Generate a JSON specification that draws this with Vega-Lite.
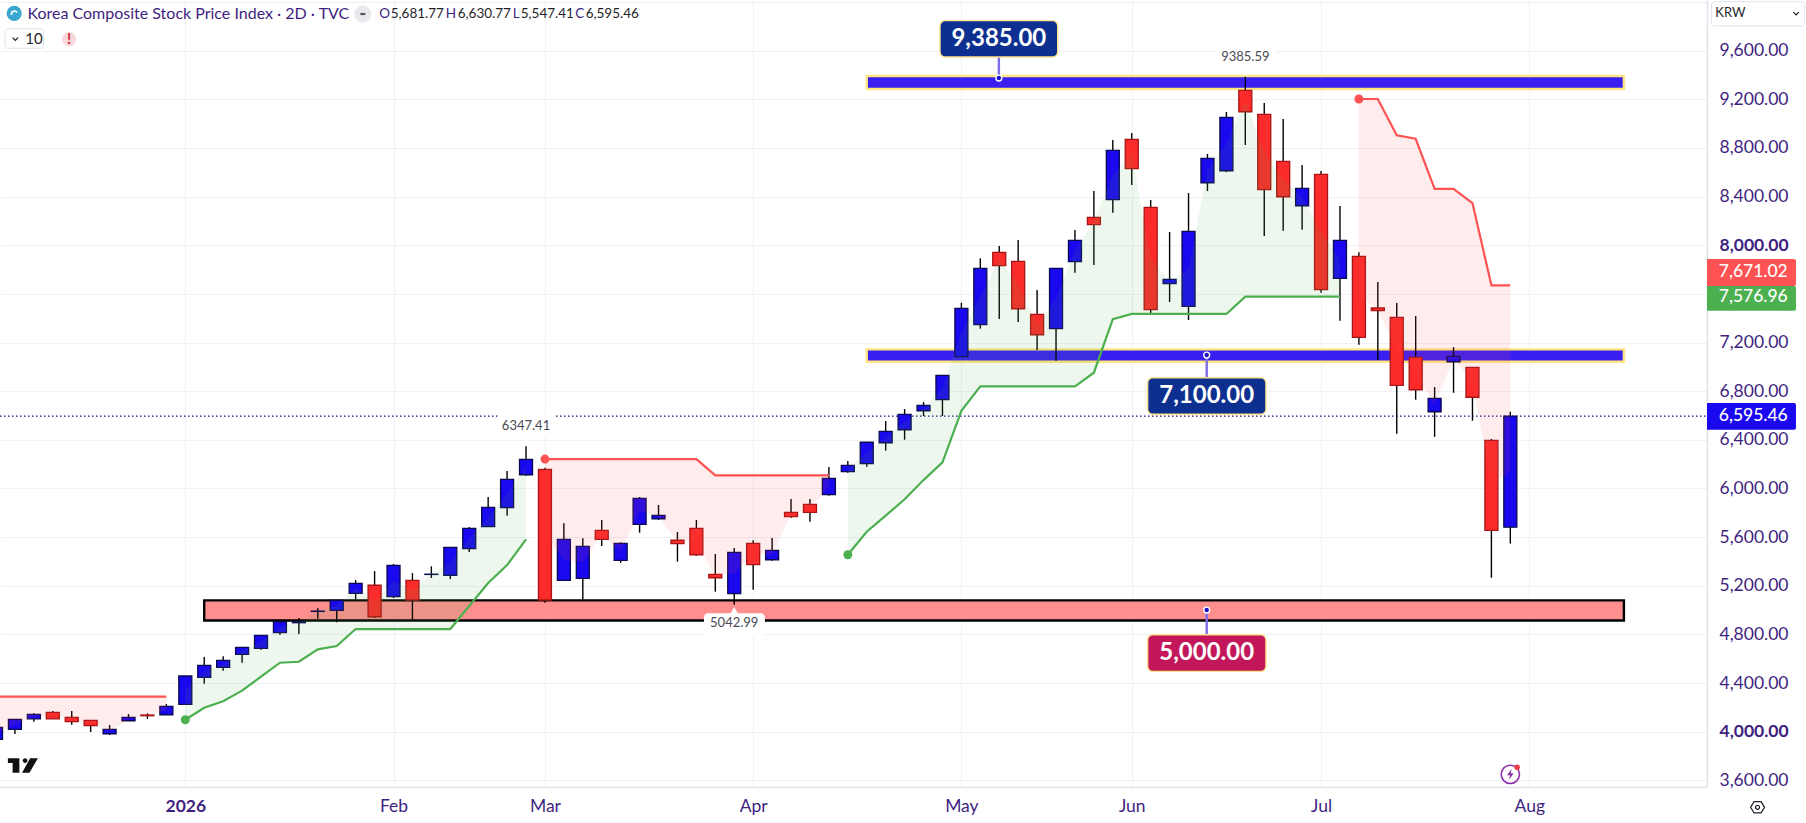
{
  "$schema": "https://vega.github.io/schema/vega-lite/v6.json",
  "width": 1707,
  "height": 787,
  "autosize": "none",
  "padding": {"left": 0, "top": 0, "right": 99, "bottom": 36},
  "background": "#ffffff",
  "config": {
    "view": {"stroke": null},
    "text": {"font": "Lato"},
    "axis": {"labelFont": "Lato", "title": null}
  },
  "datasets": {
    "candles": [
      {"bar": -10, "open": 3937, "high": 4036, "low": 3907, "close": 4036, "mid": 3986.5, "stop": 4287.5, "seg": 1, "side": "down"},
      {"bar": -9, "open": 4019, "high": 4102, "low": 3981, "close": 4101.6, "mid": 4060, "stop": 4287.5, "seg": 1, "side": "down"},
      {"bar": -8, "open": 4106, "high": 4151, "low": 4082, "close": 4143, "mid": 4124.5, "stop": 4287.5, "seg": 1, "side": "down"},
      {"bar": -7, "open": 4159, "high": 4170, "low": 4106, "close": 4106, "mid": 4132.5, "stop": 4287.5, "seg": 1, "side": "down"},
      {"bar": -6, "open": 4118, "high": 4170, "low": 4057, "close": 4082, "mid": 4100, "stop": 4287.5, "seg": 1, "side": "down"},
      {"bar": -5, "open": 4093, "high": 4093, "low": 3997, "close": 4049, "mid": 4071, "stop": 4287.5, "seg": 1, "side": "down"},
      {"bar": -4, "open": 3983, "high": 4055, "low": 3972, "close": 4019, "mid": 4001, "stop": 4287.5, "seg": 1, "side": "down"},
      {"bar": -3, "open": 4090, "high": 4145, "low": 4090, "close": 4118, "mid": 4104, "stop": 4287.5, "seg": 1, "side": "down"},
      {"bar": -2, "open": 4137, "high": 4151, "low": 4104, "close": 4131, "mid": 4134, "stop": 4287.5, "seg": 1, "side": "down"},
      {"bar": -1, "open": 4139, "high": 4227, "low": 4139, "close": 4208.5, "mid": 4174, "stop": 4287.5, "seg": 1, "side": "down"},
      {"bar": 0, "open": 4225, "high": 4458, "low": 4225, "close": 4458, "mid": 4341.5, "stop": 4098, "seg": 2, "side": "up"},
      {"bar": 1, "open": 4447, "high": 4614, "low": 4394, "close": 4546, "mid": 4496.5, "stop": 4197, "seg": 2, "side": "up"},
      {"bar": 2, "open": 4529, "high": 4620, "low": 4501, "close": 4587, "mid": 4558, "stop": 4250, "seg": 2, "side": "up"},
      {"bar": 3, "open": 4636, "high": 4694, "low": 4567, "close": 4694, "mid": 4665, "stop": 4337, "seg": 2, "side": "up"},
      {"bar": 4, "open": 4685.5, "high": 4792, "low": 4674, "close": 4792, "mid": 4739, "stop": 4452, "seg": 2, "side": "up"},
      {"bar": 5, "open": 4814, "high": 4904, "low": 4797, "close": 4904, "mid": 4859, "stop": 4567, "seg": 2, "side": "up"},
      {"bar": 6, "open": 4896, "high": 4935, "low": 4803, "close": 4902, "mid": 4899, "stop": 4575, "seg": 2, "side": "up"},
      {"bar": 7, "open": 4989, "high": 5014, "low": 4929, "close": 4991, "mid": 4990, "stop": 4677, "seg": 2, "side": "up"},
      {"bar": 8, "open": 4998, "high": 5080, "low": 4899, "close": 5080, "mid": 5039, "stop": 4704, "seg": 2, "side": "up"},
      {"bar": 9, "open": 5138, "high": 5247, "low": 5088.5, "close": 5220, "mid": 5179, "stop": 4844, "seg": 2, "side": "up"},
      {"bar": 10, "open": 5204, "high": 5321, "low": 4935, "close": 4945, "mid": 5074.5, "stop": 4844, "seg": 2, "side": "up"},
      {"bar": 11, "open": 5110, "high": 5379, "low": 5099, "close": 5368, "mid": 5239, "stop": 4844, "seg": 2, "side": "up"},
      {"bar": 12, "open": 5245, "high": 5305, "low": 4918, "close": 5083, "mid": 5164, "stop": 4844, "seg": 2, "side": "up"},
      {"bar": 13, "open": 5293, "high": 5360, "low": 5264, "close": 5295, "mid": 5294, "stop": 4844, "seg": 2, "side": "up"},
      {"bar": 14, "open": 5286, "high": 5516, "low": 5255, "close": 5516, "mid": 5401, "stop": 4844, "seg": 2, "side": "up"},
      {"bar": 15, "open": 5505, "high": 5683, "low": 5477, "close": 5672, "mid": 5588.5, "stop": 5033, "seg": 2, "side": "up"},
      {"bar": 16, "open": 5685.5, "high": 5930, "low": 5685, "close": 5845, "mid": 5765, "stop": 5222, "seg": 2, "side": "up"},
      {"bar": 17, "open": 5842, "high": 6143.5, "low": 5776, "close": 6075, "mid": 5958.5, "stop": 5370, "seg": 2, "side": "up"},
      {"bar": 18, "open": 6113, "high": 6347.41, "low": 6105, "close": 6240, "mid": 6176.5, "stop": 5582, "seg": 2, "side": "up"},
      {"bar": 19, "open": 6157.5, "high": 6171, "low": 5061, "close": 5083, "mid": 5620, "stop": 6242, "seg": 3, "side": "down"},
      {"bar": 20, "open": 5245, "high": 5713, "low": 5245, "close": 5582, "mid": 5413.5, "stop": 6242, "seg": 3, "side": "down"},
      {"bar": 21, "open": 5261, "high": 5590, "low": 5083, "close": 5524, "mid": 5392.5, "stop": 6242, "seg": 3, "side": "down"},
      {"bar": 22, "open": 5656, "high": 5741, "low": 5527, "close": 5582, "mid": 5619, "stop": 6242, "seg": 3, "side": "down"},
      {"bar": 23, "open": 5409, "high": 5557, "low": 5389, "close": 5549, "mid": 5479, "stop": 6242, "seg": 3, "side": "down"},
      {"bar": 24, "open": 5705, "high": 5930, "low": 5636, "close": 5919, "mid": 5812, "stop": 6242, "seg": 3, "side": "down"},
      {"bar": 25, "open": 5751, "high": 5864, "low": 5741, "close": 5779, "mid": 5765, "stop": 6242, "seg": 3, "side": "down"},
      {"bar": 26, "open": 5574, "high": 5642, "low": 5398, "close": 5546, "mid": 5560, "stop": 6242, "seg": 3, "side": "down"},
      {"bar": 27, "open": 5672, "high": 5741, "low": 5447, "close": 5455, "mid": 5563.5, "stop": 6242, "seg": 3, "side": "down"},
      {"bar": 28, "open": 5294, "high": 5461, "low": 5151, "close": 5266, "mid": 5280, "stop": 6108, "seg": 3, "side": "down"},
      {"bar": 29, "open": 5134.5, "high": 5510, "low": 5042.99, "close": 5475, "mid": 5305, "stop": 6108, "seg": 3, "side": "down"},
      {"bar": 30, "open": 5549, "high": 5574, "low": 5167, "close": 5373, "mid": 5461, "stop": 6108, "seg": 3, "side": "down"},
      {"bar": 31, "open": 5414, "high": 5593, "low": 5406, "close": 5491, "mid": 5452.5, "stop": 6108, "seg": 3, "side": "down"},
      {"bar": 32, "open": 5804, "high": 5913, "low": 5759.5, "close": 5768, "mid": 5786, "stop": 6108, "seg": 3, "side": "down"},
      {"bar": 33, "open": 5870, "high": 5913, "low": 5727, "close": 5804, "mid": 5837, "stop": 6108, "seg": 3, "side": "down"},
      {"bar": 34, "open": 5949, "high": 6176, "low": 5940, "close": 6083.5, "mid": 6016, "stop": 6108, "seg": 3, "side": "down"},
      {"bar": 35, "open": 6138, "high": 6226, "low": 6129.5, "close": 6190, "mid": 6164, "stop": 5455, "seg": 4, "side": "up"},
      {"bar": 36, "open": 6204, "high": 6380, "low": 6179, "close": 6380, "mid": 6292, "stop": 5644, "seg": 4, "side": "up"},
      {"bar": 37, "open": 6376, "high": 6555, "low": 6310.5, "close": 6470, "mid": 6423, "stop": 5776, "seg": 4, "side": "up"},
      {"bar": 38, "open": 6483, "high": 6653, "low": 6401, "close": 6610, "mid": 6546.5, "stop": 5911, "seg": 4, "side": "up"},
      {"bar": 39, "open": 6639, "high": 6711, "low": 6596, "close": 6684, "mid": 6661.5, "stop": 6069, "seg": 4, "side": "up"},
      {"bar": 40, "open": 6730, "high": 6930.5, "low": 6596, "close": 6930.5, "mid": 6830, "stop": 6215, "seg": 4, "side": "up"},
      {"bar": 41, "open": 7083.5, "high": 7527.6, "low": 7083, "close": 7481.5, "mid": 7282.5, "stop": 6639, "seg": 4, "side": "up"},
      {"bar": 42, "open": 7346.7, "high": 7893, "low": 7314, "close": 7810.5, "mid": 7578.6, "stop": 6840, "seg": 4, "side": "up"},
      {"bar": 43, "open": 7942, "high": 7994, "low": 7393.5, "close": 7832, "mid": 7887, "stop": 6840, "seg": 4, "side": "up"},
      {"bar": 44, "open": 7868, "high": 8043, "low": 7369, "close": 7478, "mid": 7673, "stop": 6840, "seg": 4, "side": "up"},
      {"bar": 45, "open": 7432, "high": 7632, "low": 7138.6, "close": 7264, "mid": 7348, "stop": 6840, "seg": 4, "side": "up"},
      {"bar": 46, "open": 7314, "high": 7810.5, "low": 7050.6, "close": 7810.5, "mid": 7562, "stop": 6840, "seg": 4, "side": "up"},
      {"bar": 47, "open": 7865, "high": 8125, "low": 7774, "close": 8041, "mid": 7953, "stop": 6840, "seg": 4, "side": "up"},
      {"bar": 48, "open": 8230, "high": 8446, "low": 7838, "close": 8169, "mid": 8199.5, "stop": 6952, "seg": 4, "side": "up"},
      {"bar": 49, "open": 8375, "high": 8866, "low": 8268, "close": 8781, "mid": 8578, "stop": 7393, "seg": 4, "side": "up"},
      {"bar": 50, "open": 8871, "high": 8923, "low": 8495.5, "close": 8630, "mid": 8750.5, "stop": 7435, "seg": 4, "side": "up"},
      {"bar": 51, "open": 8312, "high": 8372, "low": 7437, "close": 7470, "mid": 7891, "stop": 7435, "seg": 4, "side": "up"},
      {"bar": 52, "open": 7684, "high": 8109, "low": 7533, "close": 7720, "mid": 7702, "stop": 7435, "seg": 4, "side": "up"},
      {"bar": 53, "open": 7498, "high": 8430, "low": 7385, "close": 8115, "mid": 7806.5, "stop": 7435, "seg": 4, "side": "up"},
      {"bar": 54, "open": 8514, "high": 8750.5, "low": 8446, "close": 8715, "mid": 8614.5, "stop": 7435, "seg": 4, "side": "up"},
      {"bar": 55, "open": 8613, "high": 9096, "low": 8602, "close": 9052, "mid": 8832.5, "stop": 7435, "seg": 4, "side": "up"},
      {"bar": 56, "open": 9274, "high": 9385.59, "low": 8824.5, "close": 9098, "mid": 9186, "stop": 7577, "seg": 4, "side": "up"},
      {"bar": 57, "open": 9077, "high": 9170, "low": 8076, "close": 8457, "mid": 8767, "stop": 7577, "seg": 4, "side": "up"},
      {"bar": 58, "open": 8690, "high": 9038, "low": 8120, "close": 8399, "mid": 8544.5, "stop": 7577, "seg": 4, "side": "up"},
      {"bar": 59, "open": 8325, "high": 8660, "low": 8128, "close": 8468, "mid": 8396.5, "stop": 7577, "seg": 4, "side": "up"},
      {"bar": 60, "open": 8583.5, "high": 8611, "low": 7610, "close": 7634.5, "mid": 8109, "stop": 7577, "seg": 4, "side": "up"},
      {"bar": 61, "open": 7728, "high": 8323, "low": 7380, "close": 8041, "mid": 7884.5, "stop": 7577, "seg": 4, "side": "up"},
      {"bar": 62, "open": 7909, "high": 7942, "low": 7182, "close": 7243, "mid": 7576, "stop": 9203, "seg": 5, "side": "down"},
      {"bar": 63, "open": 7484, "high": 7698, "low": 7056, "close": 7462, "mid": 7473, "stop": 9203, "seg": 5, "side": "down"},
      {"bar": 64, "open": 7407.5, "high": 7525, "low": 6450, "close": 6848, "mid": 7128, "stop": 8904, "seg": 5, "side": "down"},
      {"bar": 65, "open": 7078.5, "high": 7418, "low": 6730, "close": 6812, "mid": 6945, "stop": 8876, "seg": 5, "side": "down"},
      {"bar": 66, "open": 6631, "high": 6834, "low": 6425.6, "close": 6741, "mid": 6686, "stop": 8463, "seg": 5, "side": "down"},
      {"bar": 67, "open": 7042, "high": 7163, "low": 6787, "close": 7087, "mid": 7064.5, "stop": 8463, "seg": 5, "side": "down"},
      {"bar": 68, "open": 6996, "high": 6996, "low": 6557, "close": 6750, "mid": 6873, "stop": 8347, "seg": 5, "side": "down"},
      {"bar": 69, "open": 6396, "high": 6407, "low": 5266, "close": 5656, "mid": 6026, "stop": 7671, "seg": 5, "side": "down"},
      {"bar": 70, "open": 5681.77, "high": 6630.77, "low": 5547.41, "close": 6595.46, "mid": 6138.6, "stop": 7671, "seg": 5, "side": "down"}
    ],
    "zones": [
      {"bar": 36, "bar2": 76, "price": 9392, "price2": 9285, "kind": "resistance"},
      {"bar": 36, "bar2": 76, "price": 7144, "price2": 7042, "kind": "resistance"},
      {"bar": 1, "bar2": 76, "price": 5080, "price2": 4914, "kind": "support"}
    ],
    "flips": [
      {"bar": 0, "price": 4098, "side": "up"},
      {"bar": 19, "price": 6242, "side": "down"},
      {"bar": 35, "price": 5455, "side": "up"},
      {"bar": 62, "price": 9203, "side": "down"}
    ],
    "stems": [
      {"bar": 42.98, "price": 9375, "price2": 9548},
      {"bar": 53.96, "price": 7097, "price2": 6911},
      {"bar": 53.96, "price": 5000, "price2": 4797}
    ],
    "boxes": [
      {"bar": 39.87, "bar2": 46.09, "price": 9847, "price2": 9548, "kind": "resistance"},
      {"bar": 50.84, "bar2": 57.09, "price": 6911, "price2": 6610, "kind": "resistance"},
      {"bar": 50.84, "bar2": 57.09, "price": 4797, "price2": 4496, "kind": "support"}
    ],
    "boxText": [
      {"bar": 42.98, "price": 9696, "label": "9,385.00"},
      {"bar": 53.96, "price": 6760, "label": "7,100.00"},
      {"bar": 53.96, "price": 4647, "label": "5,000.00"}
    ],
    "flags": [
      {"bar": 16.47, "bar2": 19.58, "price": 6612, "price2": 6423},
      {"bar": 54.46, "bar2": 57.6, "price": 9639, "price2": 9458},
      {"bar": 27.4, "bar2": 30.62, "price": 4973, "price2": 4778}
    ],
    "flagText": [
      {"bar": 18, "price": 6516, "label": "6347.41"},
      {"bar": 56, "price": 9551, "label": "9385.59"},
      {"bar": 29, "price": 4893, "label": "5042.99"}
    ],
    "tags": [
      {"bar": 80.39, "bar2": 85.09, "price": 7887, "price2": 7665, "kind": "down"},
      {"bar": 80.39, "bar2": 85.09, "price": 7665, "price2": 7462, "kind": "up"},
      {"bar": 80.39, "bar2": 85.09, "price": 6703, "price2": 6483, "kind": "last"}
    ],
    "tagText": [
      {"bar": 81.01, "price": 7780, "label": "7,671.02"},
      {"bar": 81.01, "price": 7577, "label": "7,576.96"},
      {"bar": 81.01, "price": 6598, "label": "6,595.46"}
    ]
  },
  "encoding": {
    "x": {
      "field": "bar",
      "type": "quantitative",
      "scale": {"domain": [-9.789, 80.39], "nice": false, "zero": false, "padding": 0},
      "axis": {
        "values": [-10, 0, 11, 19, 30, 41, 50, 60, 71],
        "labelExpr": "{'-10':'Dec','0':'2026','11':'Feb','19':'Mar','30':'Apr','41':'May','50':'Jun','60':'Jul','71':'Aug'}[datum.value]",
        "labelOverlap": false,
        "labelFontSize": 17.5,
        "labelColor": "#3f1f80",
        "labelFontWeight": {"condition": {"test": "datum.value === 0", "value": "bold"}, "value": "normal"},
        "labelPadding": 10,
        "ticks": false,
        "grid": true,
        "gridColor": "#f0f1f6",
        "gridWidth": 1,
        "domainColor": "#e0e3eb",
        "domainWidth": 1.5
      }
    },
    "y": {
      "field": "price",
      "type": "quantitative",
      "scale": {"domain": [3545, 10017], "nice": false, "zero": false},
      "axis": {
        "orient": "right",
        "values": [3600, 4000, 4400, 4800, 5200, 5600, 6000, 6400, 6800, 7200, 7600, 8000, 8400, 8800, 9200, 9600, 10000],
        "labelExpr": "datum.value > 9600 || datum.value === 7600 ? '' : format(datum.value, ',.2f')",
        "labelOverlap": false,
        "labelFontSize": 17.5,
        "labelColor": "#3f1f80",
        "labelAlign": "left",
        "labelPadding": 12,
        "labelFontWeight": {"condition": {"test": "datum.value === 4000 || datum.value === 8000", "value": "bold"}, "value": "normal"},
        "ticks": false,
        "grid": true,
        "gridColor": "#f0f1f6",
        "gridWidth": 1,
        "domainColor": "#e0e3eb",
        "domainWidth": 1.5
      }
    }
  },
  "layer": [
    {
      "data": {"name": "zones"},
      "mark": {"type": "rect", "strokeWidth": 2.4},
      "encoding": {
        "x2": {"field": "bar2"},
        "y2": {"field": "price2"},
        "fill": {"condition": {"test": "datum.kind === 'support'", "value": "#ff8f8f"}, "value": "#3a20f0"},
        "stroke": {"condition": {"test": "datum.kind === 'support'", "value": "#000000"}, "value": "#ffe680"}
      }
    },
    {
      "data": {"values": [{"bar": -9.789, "bar2": 80.39, "price": 6595.46}]},
      "mark": {"type": "rule", "color": "#14108c", "strokeWidth": 1.3, "strokeDash": [1.5, 2.5]},
      "encoding": {"x2": {"field": "bar2"}}
    },
    {
      "data": {"name": "candles"},
      "mark": {"type": "rule", "color": "#000000", "strokeWidth": 1.4},
      "encoding": {
        "y": {"field": "low", "type": "quantitative", "scale": {"domain": [3545, 10017], "nice": false, "zero": false}, "axis": {"orient": "right", "title": null}},
        "y2": {"field": "high"}
      }
    },
    {
      "data": {"name": "candles"},
      "mark": {"type": "bar", "size": 13, "strokeWidth": 1.3},
      "encoding": {
        "y": {"field": "open", "type": "quantitative", "scale": {"domain": [3545, 10017], "nice": false, "zero": false}, "axis": {"orient": "right", "title": null}},
        "y2": {"field": "close"},
        "fill": {"condition": {"test": "datum.close >= datum.open", "value": "#1a08ee"}, "value": "#fb2b2b"},
        "stroke": {"condition": {"test": "datum.close >= datum.open", "value": "#0a0a50"}, "value": "#a81414"}
      }
    },
    {
      "data": {"name": "candles"},
      "mark": {"type": "area", "opacity": 0.1},
      "encoding": {
        "y": {"field": "stop", "type": "quantitative", "scale": {"domain": [3545, 10017], "nice": false, "zero": false}, "axis": {"orient": "right", "title": null}},
        "y2": {"field": "mid"},
        "detail": {"field": "seg"},
        "color": {"field": "side", "type": "nominal", "scale": {"domain": ["up", "down"], "range": ["#4caf50", "#ff5252"]}, "legend": null}
      }
    },
    {
      "data": {"name": "candles"},
      "mark": {"type": "line", "strokeWidth": 2.2},
      "encoding": {
        "y": {"field": "stop", "type": "quantitative", "scale": {"domain": [3545, 10017], "nice": false, "zero": false}, "axis": {"orient": "right", "title": null}},
        "detail": {"field": "seg"},
        "color": {"field": "side", "type": "nominal", "scale": {"domain": ["up", "down"], "range": ["#4caf50", "#ff5252"]}, "legend": null}
      }
    },
    {
      "data": {"name": "flips"},
      "mark": {"type": "circle", "size": 80, "opacity": 1},
      "encoding": {
        "color": {"field": "side", "type": "nominal", "scale": {"domain": ["up", "down"], "range": ["#4caf50", "#ff5252"]}, "legend": null}
      }
    },
    {
      "data": {"name": "stems"},
      "mark": {"type": "rule", "color": "#7b6ee6", "strokeWidth": 2.4},
      "encoding": {"y2": {"field": "price2"}}
    },
    {
      "data": {"name": "stems"},
      "mark": {"type": "circle", "size": 34, "color": "#1f10c8", "stroke": "#ffffff", "strokeWidth": 1.4, "opacity": 1}
    },
    {
      "data": {"name": "boxes"},
      "mark": {"type": "rect", "cornerRadius": 5, "strokeWidth": 1.4, "stroke": "#ffe28a"},
      "encoding": {
        "x2": {"field": "bar2"},
        "y2": {"field": "price2"},
        "fill": {"condition": {"test": "datum.kind === 'support'", "value": "#c2185b"}, "value": "#0d2f8f"}
      }
    },
    {
      "data": {"name": "boxText"},
      "mark": {"type": "text", "fontSize": 24, "fontWeight": "bold", "color": "#ffffff", "align": "center", "baseline": "middle"},
      "encoding": {"text": {"field": "label"}}
    },
    {
      "data": {"name": "flags"},
      "mark": {"type": "rect", "cornerRadius": 4, "color": "#ffffff"},
      "encoding": {"x2": {"field": "bar2"}, "y2": {"field": "price2"}}
    },
    {
      "data": {"values": [{"bar": 18, "price": 6390}, {"bar": 56, "price": 9417}]},
      "mark": {"type": "point", "shape": "triangle-down", "filled": true, "color": "#ffffff", "size": 60, "opacity": 1}
    },
    {
      "data": {"values": [{"bar": 29, "price": 4992}]},
      "mark": {"type": "point", "shape": "triangle-up", "filled": true, "color": "#ffffff", "size": 90, "opacity": 1}
    },
    {
      "data": {"name": "flagText"},
      "mark": {"type": "text", "fontSize": 13, "color": "#4a4a55", "align": "center", "baseline": "middle"},
      "encoding": {"text": {"field": "label"}}
    },
    {
      "data": {"name": "tags"},
      "mark": {"type": "rect", "cornerRadiusTopRight": 2, "cornerRadiusBottomRight": 2},
      "encoding": {
        "x2": {"field": "bar2"},
        "y2": {"field": "price2"},
        "fill": {"condition": [{"test": "datum.kind === 'down'", "value": "#ff5252"}, {"test": "datum.kind === 'up'", "value": "#4caf50"}], "value": "#1a08ee"}
      }
    },
    {
      "data": {"name": "tagText"},
      "mark": {"type": "text", "fontSize": 17.5, "fontWeight": 500, "color": "#ffffff", "align": "left", "baseline": "middle"},
      "encoding": {"text": {"field": "label"}}
    },
    {
      "data": {"values": [{"bar": 80.63, "bar2": 85.56, "price": 10003, "price2": 9803}, {"bar": -9.52, "bar2": -7.49, "price": 9781, "price2": 9620}]},
      "mark": {"type": "rect", "cornerRadius": 3, "fill": "#ffffff", "stroke": "#e0e3eb", "strokeWidth": 1},
      "encoding": {"x2": {"field": "bar2"}, "y2": {"field": "price2"}}
    },
    {
      "data": {"values": [{"bar": 80.83, "price": 9906, "label": "KRW"}]},
      "mark": {"type": "text", "fontSize": 13, "color": "#1f1f2a", "align": "left", "baseline": "middle"},
      "encoding": {"text": {"field": "label"}}
    },
    {
      "data": {"values": [{"bar": -8.34, "price": 9902, "label": "Korea Composite Stock Price Index · 2D · TVC"}]},
      "mark": {"type": "text", "fontSize": 16, "color": "#3f1f80", "align": "left", "baseline": "middle"},
      "encoding": {"text": {"field": "label"}}
    },
    {
      "data": {"values": [{"bar": 10.25, "price": 9902, "label": "O"}, {"bar": 13.76, "price": 9902, "label": "H"}, {"bar": 17.3, "price": 9902, "label": "L"}, {"bar": 20.6, "price": 9902, "label": "C"}]},
      "mark": {"type": "text", "fontSize": 13.5, "color": "#3f1f80", "align": "left", "baseline": "middle"},
      "encoding": {"text": {"field": "label"}}
    },
    {
      "data": {"values": [{"bar": 10.85, "price": 9902, "label": "5,681.77"}, {"bar": 14.39, "price": 9902, "label": "6,630.77"}, {"bar": 17.72, "price": 9902, "label": "5,547.41"}, {"bar": 21.15, "price": 9902, "label": "6,595.46"}]},
      "mark": {"type": "text", "fontSize": 13.5, "color": "#1f1f2a", "align": "left", "baseline": "middle"},
      "encoding": {"text": {"field": "label"}}
    },
    {
      "data": {"values": [{"bar": -8.45, "price": 9696, "label": "10"}]},
      "mark": {"type": "text", "fontSize": 15, "color": "#1f1f2a", "align": "left", "baseline": "middle"},
      "encoding": {"text": {"field": "label"}}
    },
    {
      "data": {"values": [{"bar": -9.04, "price": 9907}]},
      "mark": {"type": "circle", "size": 230, "color": "#3aa7d0", "opacity": 1}
    },
    {
      "data": {"values": [{"bar": -9.04, "price": 9907}]},
      "mark": {"type": "point", "shape": "M.7,-.2 A.72,.72 0 0 0 -.6,.4", "filled": false, "stroke": "#ffffff", "strokeWidth": 1.6, "size": 70, "opacity": 1}
    },
    {
      "data": {"values": [{"bar": 9.38, "price": 9902}]},
      "mark": {"type": "circle", "size": 285, "color": "#e8e9ec", "opacity": 1}
    },
    {
      "data": {"values": [{"bar": 9.38, "price": 9902}]},
      "mark": {"type": "point", "shape": "M-.5,-.22 L.5,-.22 L.5,.22 L-.5,.22 Z", "filled": true, "color": "#555566", "size": 100, "opacity": 1}
    },
    {
      "data": {"values": [{"bar": -8.98, "price": 9696}, {"bar": 85.1, "price": 9906}]},
      "mark": {"type": "point", "shape": "M-1,-.5 L0,.5 L1,-.5", "filled": false, "stroke": "#1f1f2a", "strokeWidth": 1.3, "size": 30, "opacity": 1}
    },
    {
      "data": {"values": [{"bar": -6.14, "price": 9694}]},
      "mark": {"type": "circle", "size": 200, "color": "#f7d9dc", "opacity": 1}
    },
    {
      "data": {"values": [{"bar": -6.14, "price": 9694, "label": "!"}]},
      "mark": {"type": "text", "fontSize": 15, "fontWeight": "bold", "color": "#cf2e3d", "align": "center", "baseline": "middle"},
      "encoding": {"text": {"field": "label"}}
    },
    {
      "data": {"values": [{"bar": -8.58, "price": 3722}]},
      "mark": {
        "type": "point",
        "shape": "M-1,-.483 L-.236,-.483 L-.236,.483 L-.685,.483 L-.685,-.169 L-1,-.169 Z M-.011,-.326 A.157,.157 0 1 1 .303,-.326 A.157,.157 0 1 1 -.011,-.326 Z M.483,-.483 L1,-.483 L.438,.483 L-.056,.483 Z",
        "filled": true,
        "color": "#111111",
        "size": 900,
        "opacity": 1
      }
    },
    {
      "data": {"values": [{"bar": 70, "price": 3649}]},
      "mark": {"type": "circle", "size": 336, "filled": false, "stroke": "#8e2fa8", "strokeWidth": 1.6, "opacity": 1}
    },
    {
      "data": {"values": [{"bar": 70, "price": 3649}]},
      "mark": {"type": "point", "shape": "M.25,-1 L-.6,.15 L-.05,.15 L-.25,1 L.6,-.2 L.05,-.2 Z", "filled": true, "color": "#8e2fa8", "size": 121, "opacity": 1}
    },
    {
      "data": {"values": [{"bar": 70.36, "price": 3707}]},
      "mark": {"type": "circle", "size": 30, "color": "#f03a4a", "opacity": 1}
    },
    {
      "data": {"values": [{"bar": 83.06, "price": 3378}]},
      "mark": {"type": "point", "shape": "M-1,0 L-.5,-.8 L.5,-.8 L1,0 L.5,.8 L-.5,.8 Z", "filled": false, "stroke": "#1f1f2a", "strokeWidth": 1.2, "size": 196, "opacity": 1}
    },
    {
      "data": {"values": [{"bar": 83.06, "price": 3378}]},
      "mark": {"type": "circle", "size": 16, "filled": false, "stroke": "#1f1f2a", "strokeWidth": 1.2, "opacity": 1}
    }
  ]
}
